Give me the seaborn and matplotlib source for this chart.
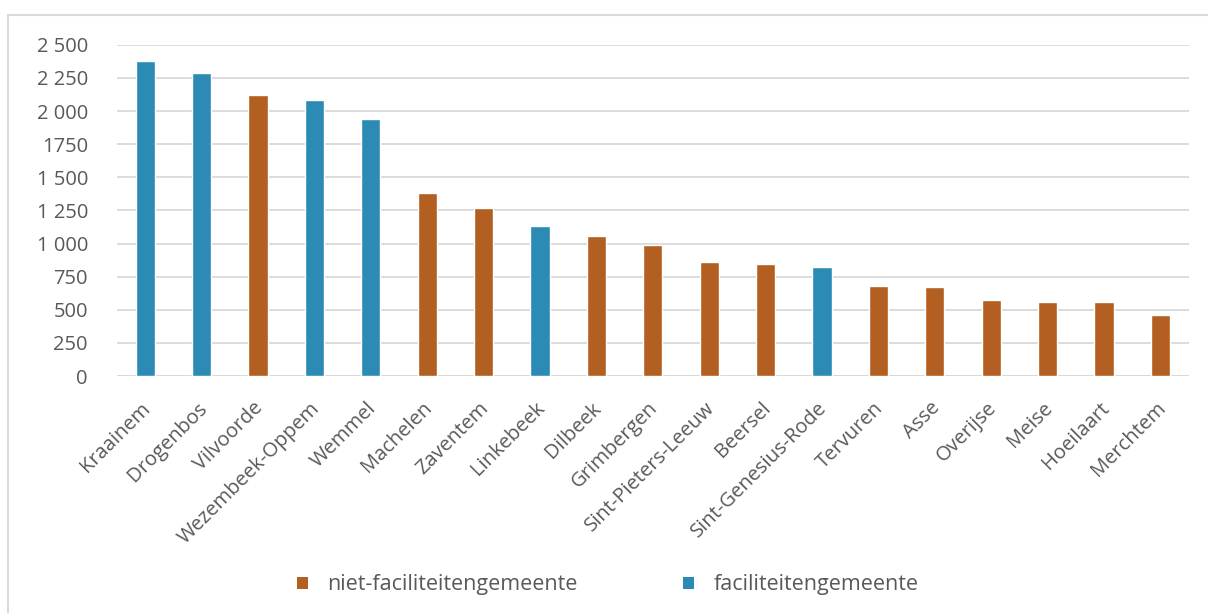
import matplotlib
matplotlib.use("Agg")
import matplotlib.pyplot as plt
import matplotlib.transforms as mtransforms
import seaborn as sns
import pandas as pd
from matplotlib.patches import Rectangle, Patch

gemeenten = ["Kraainem", "Drogenbos", "Vilvoorde", "Wezembeek-Oppem", "Wemmel",
             "Machelen", "Zaventem", "Linkebeek", "Dilbeek", "Grimbergen",
             "Sint-Pieters-Leeuw", "Beersel", "Sint-Genesius-Rode", "Tervuren",
             "Asse", "Overijse", "Meise", "Hoeilaart", "Merchtem"]
waarden = [2377, 2286, 2120, 2082, 1939, 1382, 1267, 1131, 1053, 992,
           864, 846, 821, 677, 675, 572, 562, 559, 464]
types = ["faciliteitengemeente", "faciliteitengemeente", "niet-faciliteitengemeente",
         "faciliteitengemeente", "faciliteitengemeente", "niet-faciliteitengemeente",
         "niet-faciliteitengemeente", "faciliteitengemeente", "niet-faciliteitengemeente",
         "niet-faciliteitengemeente", "niet-faciliteitengemeente", "niet-faciliteitengemeente",
         "faciliteitengemeente", "niet-faciliteitengemeente", "niet-faciliteitengemeente",
         "niet-faciliteitengemeente", "niet-faciliteitengemeente", "niet-faciliteitengemeente",
         "niet-faciliteitengemeente"]
legend_order = ["niet-faciliteitengemeente", "faciliteitengemeente"]
y_ticks = [0, 250, 500, 750, 1000, 1250, 1500, 1750, 2000, 2250, 2500]
y_ticklabels = ["0", "250", "500", "750", "1 000", "1 250", "1 500", "1750", "2 000", "2 250", "2 500"]

colors = {"niet-faciliteitengemeente": "#B35F22", "faciliteitengemeente": "#2B8BB5"}
text_color = "#595959"
font = "Open Sans"

df = pd.DataFrame({"gemeente": gemeenten, "waarde": waarden, "type": types})

sns.set_theme(style="white")
plt.rcParams["font.family"] = [font, "DejaVu Sans"]

fig = plt.figure(figsize=(12.08, 6.13), dpi=100)
ax = fig.add_axes([0.0969, 0.3866, 0.8871, 0.5404])

sns.barplot(data=df, x="gemeente", y="waarde", hue="type", palette=colors,
            dodge=False, width=0.34, ax=ax, legend=False, saturation=1)

ax.set_ylim(0, 2500)
ax.set_xlim(-0.5, len(gemeenten) - 0.5)
ax.set_yticks(y_ticks)
ax.set_yticklabels(y_ticklabels)
ax.yaxis.grid(True, color="#D9D9D9", linewidth=1.3)
ax.set_axisbelow(True)
for s in ax.spines.values():
    s.set_visible(False)
ax.axhline(0, color="#D9D9D9", linewidth=1.3, zorder=0.5)
ax.set_xlabel("")
ax.set_ylabel("")
ax.tick_params(axis="y", length=0, pad=21, labelsize=14.5, labelcolor=text_color)
ax.tick_params(axis="x", length=0, pad=16, labelsize=14.5, labelcolor=text_color)
shift = mtransforms.ScaledTranslation(-5 / 100, 0, fig.dpi_scale_trans)
for lab in ax.get_xticklabels():
    lab.set_rotation(45)
    lab.set_ha("right")
    lab.set_rotation_mode("anchor")
    lab.set_transform(lab.get_transform() + shift)

handles = [Patch(facecolor=colors[t], edgecolor="none") for t in legend_order]
fig.legend(handles, legend_order, loc="center", bbox_to_anchor=(0.503, 0.046),
           ncol=2, frameon=False, fontsize=15.5, labelcolor=text_color,
           handlelength=0.5, handleheight=0.5, handletextpad=0.9, columnspacing=4.9)

fig.patches.append(Rectangle((8 / 1208, -20 / 613), 1230 / 1208, 618 / 613,
                             transform=fig.transFigure, fill=False,
                             edgecolor="#D9D9D9", linewidth=1.5, clip_on=False))

fig.savefig("out.png", dpi=100)
